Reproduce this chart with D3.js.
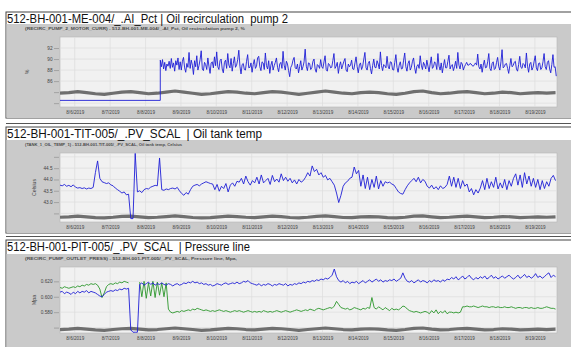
<!DOCTYPE html>
<html>
<head>
<meta charset="utf-8">
<script src="https://cdn.jsdelivr.net/npm/d3@7"></script>
<style>
  html, body { margin: 0; padding: 0; background: #fff; }
  svg { display: block; font-family: "Liberation Sans", Arial, sans-serif; }
</style>
</head>
<body>
<svg id="chart" width="571" height="347"></svg>
<script>
// Time axis shared by all three trends
const START = new Date(2019, 7, 5, 14, 0);
const END = new Date(2019, 7, 19, 15, 0);
const STEP_HOURS = 1.5;       // sample spacing of temp / pressure
const PUMP_STEP_HOURS = 0.75; // pump current is sampled denser
const GRAY_STEP_HOURS = 6;    // gray reference trace
const dayTicks = d3.timeDay.range(new Date(2019, 7, 6), new Date(2019, 7, 20));

// --- Panel 1: pump motor current, % ---
const pumpIdleValue = 82.5;
const pumpStartTime = new Date(2019, 7, 8, 10, 0);
const pumpValues = [
  89.8, 88.6, 89.9, 88.2, 89.4, 87.9, 89.1, 88.7, 89.6, 88.3, 90.1, 88.5, 89.3, 87.8, 89.7, 88.9, 90.2, 88.1, 89.5,
  88.0, 89.6, 90.3, 88.4, 87.6, 89.2, 88.5, 91.2, 88.3, 89.8, 88.9, 87.2, 89.7, 88.6, 90.6, 88.0, 88.8, 89.9, 91.5, 88.2, 87.9, 89.4, 89.0, 88.1, 90.2, 88.7, 87.4, 89.3, 89.5, 88.4, 90.4, 88.8,
  91.3, 88.6, 88.1, 89.7, 90.0, 88.2, 87.5, 89.4, 89.8, 88.3, 91.0, 88.9, 88.4, 90.1, 87.8, 89.2, 90.4, 88.5, 88.9, 89.9, 91.6, 88.7, 87.3, 89.0, 89.2, 88.1, 88.0, 89.6, 90.8, 88.4, 88.5, 89.3,
  87.6, 89.0, 89.9, 88.3, 88.7, 90.2, 90.5, 88.6, 87.9, 89.5, 89.3, 88.1, 91.1, 88.8, 88.2, 89.7, 87.4, 88.9, 89.6, 88.0, 88.8, 89.4, 90.2, 88.5, 87.7, 89.1, 89.4, 88.3, 91.4, 88.9, 88.0, 89.6,
  89.1, 87.9, 86.8, 88.5, 88.9, 89.8, 90.3, 88.4, 88.2, 89.1, 87.5, 88.6, 89.7, 88.0, 88.6, 89.5, 91.8, 88.7, 87.9, 89.3, 89.2, 88.1, 88.4, 89.6, 90.0, 88.2, 87.6, 89.0, 88.8, 88.3, 89.9, 88.6,
  88.3, 89.5, 90.6, 88.1, 87.8, 89.2, 89.0, 88.4, 88.5, 89.7, 91.0, 88.3, 88.7, 89.4, 87.4, 88.8, 89.5, 88.2, 88.9, 89.6, 90.1, 88.0, 87.7, 89.1, 88.6, 88.9, 89.8, 88.2, 88.1, 89.3, 90.4, 88.6,
  87.5, 88.9, 89.3, 88.1, 88.7, 90.0, 91.2, 88.4, 88.0, 89.2, 89.6, 88.3, 87.3, 88.8, 90.0, 88.5, 88.4, 89.7, 89.1, 88.2, 91.3, 88.8, 87.9, 89.0, 88.8, 88.4, 90.5, 88.7, 88.2, 89.5, 89.4, 88.1,
  88.0, 89.4, 90.8, 88.5, 87.6, 88.9, 89.5, 88.2, 88.3, 89.8, 91.1, 88.6, 87.8, 89.2, 89.7, 88.0, 88.5, 89.6, 90.2, 88.4, 87.4, 88.7, 89.0, 88.3, 90.6, 88.9, 88.1, 89.4, 88.9, 88.2, 89.8, 88.7,
  87.7, 89.1, 90.4, 88.3, 88.6, 89.5, 89.2, 88.1, 91.0, 88.7, 88.0, 89.3, 87.5, 88.8, 89.9, 88.4, 88.4, 89.6, 90.7, 88.2, 88.8, 89.0, 87.9, 88.6, 89.6, 88.3, 91.2, 88.9, 88.2, 89.4, 89.1, 88.0,
  88.6, 89.0, 89.4, 88.9, 88.9, 89.2, 89.1, 88.8, 88.7, 89.0, 89.3, 88.9, 90.9, 88.6, 88.2, 89.1, 87.6, 88.9, 89.8, 88.4, 88.5, 89.5, 91.0, 88.3, 87.9, 89.2, 89.5, 88.1, 88.3, 89.4, 90.3, 88.6,
  88.0, 89.5, 91.7, 88.4, 88.6, 89.1, 89.2, 88.3, 87.4, 88.8, 90.1, 88.6, 88.8, 89.4, 89.6, 88.2, 87.8, 89.0, 90.5, 88.5, 88.3, 89.2, 89.0, 88.4, 91.1, 88.7, 87.6, 89.1, 89.4, 88.0, 88.5, 89.6,
  90.6, 88.4, 87.9, 89.2, 89.3, 88.1, 88.4, 89.5, 91.0, 88.6, 88.1, 89.4, 89.7, 88.2, 87.5, 89.0, 90.8, 88.5, 88.6, 86.9
];
const pumpGray = [
  83.8, 83.9, 84.1, 83.9, 83.7, 83.6, 83.8, 84.0, 84.1, 83.9, 83.7, 83.8, 84.0, 84.2, 84.0, 83.8,
  83.6, 83.7, 83.9, 84.1, 84.0, 83.8, 83.7, 83.9, 84.1, 84.0, 83.8, 83.6, 83.8, 84.0, 84.2, 84.0,
  83.8, 83.7, 83.9, 84.0, 83.9, 83.7, 83.6, 83.8, 84.1, 84.2, 83.9, 83.7, 83.8, 84.0, 84.1, 83.9,
  83.7, 83.8, 84.0, 83.9, 83.7, 83.8, 83.9, 83.8, 83.9
];
const pumpTicks = [82, 84, 86, 88, 90, 92];
const pumpLabels = [86, 88, 90, 92];

// --- Panel 2: oil tank temperature, Celsius ---
const tempValues = [
  43.75, 43.72, 43.78, 43.70, 43.74, 43.68, 43.76, 43.66, 43.62, 43.64, 43.60, 43.63, 43.58, 43.62, 43.60, 43.65,
  44.30, 44.82, 44.05, 43.90, 43.86, 43.82, 43.85, 43.76, 43.72, 43.62, 43.55, 43.48, 43.40, 43.45, 43.32, 43.35,
  42.27, 42.27, 45.15, 43.45,
  43.50, 43.42, 43.55, 43.60, 43.58, 43.66, 43.70, 43.74, 43.72,
  44.95, 43.55,
  43.52, 43.58, 43.55, 43.60, 43.62, 43.58, 43.65,
  43.50, 43.38, 43.30, 43.42, 43.35, 43.55, 43.70,
  43.75, 43.78, 43.72, 43.80, 43.85, 43.90, 43.86, 43.82,
  43.80, 43.55, 43.78, 43.48, 43.70, 43.60, 43.82, 43.45, 43.75, 43.85, 43.70, 43.92,
  43.88, 44.05, 43.80, 44.15, 43.90, 43.75, 43.95, 43.85,
  44.10, 43.80, 44.20, 43.85, 43.95, 44.05, 43.78, 44.18, 43.90, 44.02, 43.88,
  44.25, 43.95, 44.10, 43.92, 44.05, 43.85, 43.98, 43.80, 44.00, 43.88, 43.95,
  44.10, 44.30, 44.15, 44.60, 44.35, 44.45, 44.20,
  44.30, 44.10, 44.18, 43.98, 44.05, 43.90, 43.75,
  43.40, 42.98, 43.30, 43.70,
  43.85, 43.92, 44.05, 44.10, 44.55, 44.25, 44.40,
  43.70, 44.20, 43.60, 44.10, 43.55, 44.00, 43.65, 44.15, 43.58, 43.95, 43.70, 43.90, 43.85, 43.88, 43.80, 43.75,
  43.60, 43.45, 43.38, 43.35, 43.55, 43.72,
  43.85, 43.95, 44.05, 43.90, 44.10, 43.85, 44.00, 43.92,
  43.70, 43.62, 43.75, 43.58, 43.68, 43.55, 43.72, 43.60, 43.65, 43.78,
  44.15, 43.70, 44.10, 43.65, 44.05, 43.60, 43.95, 43.70, 43.80,
  43.45, 43.60, 43.32, 43.55, 43.40, 43.62,
  43.95, 43.55, 44.05, 43.60, 43.90, 43.65, 44.10, 43.58, 43.85, 43.62, 44.00, 43.55, 43.95, 43.70, 44.05,
  44.25, 43.75, 44.20, 43.65, 44.30, 43.80, 44.15, 43.70, 44.05,
  43.65, 44.00, 43.55, 43.95, 43.60, 43.90, 43.70, 44.05, 44.18, 43.95
];
const tempGray = [
  42.33, 42.35, 42.38, 42.35, 42.31, 42.30, 42.33, 42.37, 42.38, 42.35, 42.31, 42.33, 42.36, 42.39, 42.36, 42.32,
  42.30, 42.31, 42.35, 42.38, 42.36, 42.33, 42.31, 42.35, 42.38, 42.36, 42.32, 42.30, 42.33, 42.37, 42.39, 42.36,
  42.32, 42.31, 42.35, 42.36, 42.35, 42.31, 42.30, 42.33, 42.38, 42.39, 42.35, 42.31, 42.33, 42.36, 42.38, 42.35,
  42.31, 42.33, 42.36, 42.35, 42.31, 42.33, 42.35, 42.33, 42.35
];
const tempTicks = [42.5, 43.0, 43.5, 44.0, 44.5, 45.0];
const tempLabels = [43.0, 43.5, 44.0, 44.5];

// --- Panel 3: pump outlet pressure, Mpa ---
const pressBlue = [
  0.606, 0.607, 0.604, 0.606,
  0.605, 0.603, 0.606, 0.604, 0.607, 0.605,
  0.607, 0.606, 0.608, 0.605, 0.607, 0.606, 0.605, 0.603, 0.601,
  0.600, 0.603, 0.606,
  0.607, 0.608, 0.607, 0.609, 0.608, 0.610, 0.609, 0.611, 0.610, 0.611,
  0.557, 0.554, 0.554, 0.554,
  0.616, 0.618, 0.615, 0.617, 0.619, 0.616, 0.618, 0.615, 0.617, 0.616, 0.618, 0.616,
  0.615, 0.617, 0.616, 0.614, 0.616, 0.617, 0.615, 0.616, 0.618, 0.617,
  0.619, 0.618, 0.620, 0.618, 0.619, 0.617, 0.618, 0.616, 0.617, 0.615,
  0.616, 0.614, 0.615, 0.617, 0.616, 0.615, 0.617, 0.618, 0.616, 0.617,
  0.618, 0.617, 0.619, 0.617, 0.618, 0.620, 0.619, 0.621, 0.618, 0.617,
  0.616, 0.615, 0.617, 0.614, 0.616, 0.615, 0.617, 0.616, 0.614, 0.616, 0.615, 0.617,
  0.616, 0.615, 0.617, 0.614, 0.616, 0.615, 0.617, 0.616, 0.618, 0.617, 0.619, 0.618, 0.620, 0.619, 0.621, 0.620, 0.622, 0.621, 0.623, 0.622,
  0.624, 0.623, 0.625, 0.628, 0.636, 0.626, 0.621,
  0.619, 0.621, 0.618, 0.620, 0.617, 0.619, 0.618, 0.620, 0.617, 0.619, 0.621, 0.618,
  0.620, 0.622, 0.619, 0.621, 0.623, 0.620, 0.622, 0.619, 0.621, 0.620, 0.622, 0.621, 0.623, 0.620, 0.622, 0.624,
  0.631, 0.624, 0.620,
  0.619, 0.621, 0.618, 0.620, 0.622, 0.619, 0.621, 0.620, 0.618, 0.621, 0.619, 0.622, 0.620, 0.621, 0.619, 0.622, 0.620, 0.623,
  0.622, 0.625, 0.623, 0.626, 0.622, 0.624, 0.627, 0.623, 0.625, 0.628, 0.624, 0.622, 0.625, 0.623, 0.626,
  0.624, 0.627, 0.623, 0.625, 0.628, 0.624, 0.626, 0.623, 0.625, 0.627, 0.624, 0.626, 0.628, 0.625, 0.623,
  0.625, 0.628, 0.624, 0.626, 0.629, 0.625, 0.627, 0.624, 0.626, 0.630, 0.625, 0.627, 0.624, 0.626, 0.629, 0.631, 0.625, 0.628, 0.626
];
const pressGreen = [
  0.612, 0.611, 0.613, 0.612, 0.611, 0.612, 0.613, 0.612, 0.614, 0.613,
  0.615, 0.614, 0.616, 0.615, 0.617, 0.616, 0.617, 0.615, 0.610,
  0.599, 0.605, 0.613,
  0.616, 0.617, 0.616, 0.618, 0.617, 0.619, 0.618, 0.620, 0.619, 0.618,
  null, null, null, null,
  0.619, 0.600, 0.620, 0.598, 0.618, 0.601, 0.620, 0.599, 0.619, 0.602, 0.618, 0.600,
  0.618, 0.584,
  0.580, 0.579, 0.580, 0.581, 0.580, 0.582, 0.581, 0.582, 0.583, 0.582,
  0.584, 0.583, 0.585, 0.584, 0.583, 0.582, 0.583, 0.582, 0.581, 0.582,
  0.581, 0.582, 0.583, 0.582, 0.581, 0.582, 0.581, 0.580, 0.581, 0.582,
  0.581, 0.582, 0.581, 0.580, 0.581, 0.582, 0.581, 0.580, 0.581, 0.580,
  0.581, 0.580, 0.582, 0.581, 0.580, 0.581, 0.580, 0.581, 0.582, 0.581,
  0.580, 0.581, 0.582, 0.581, 0.580, 0.581, 0.582, 0.583, 0.582, 0.581, 0.582, 0.583, 0.582, 0.584, 0.583, 0.582, 0.584, 0.585, 0.584, 0.583,
  0.584, 0.585, 0.586, 0.585, 0.588, 0.594, 0.590, 0.586, 0.585,
  0.584, 0.585, 0.583, 0.584, 0.586, 0.585, 0.584, 0.583, 0.585, 0.584, 0.586, 0.585, 0.599,
  0.586, 0.584, 0.587, 0.585, 0.583, 0.586, 0.584, 0.582, 0.585, 0.583, 0.584, 0.583, 0.585,
  0.588, 0.587, 0.584,
  0.582, 0.581, 0.580, 0.581, 0.580, 0.579, 0.580, 0.581, 0.580,
  0.578, 0.582, 0.579, 0.583, 0.578, 0.581, 0.579, 0.582, 0.578, 0.580,
  0.580, 0.579, 0.580, 0.579, 0.580, 0.587,
  0.587, 0.588, 0.587, 0.587, 0.588, 0.587, 0.586, 0.587, 0.588, 0.587,
  0.587, 0.586, 0.587, 0.587, 0.586, 0.587, 0.586, 0.586, 0.587, 0.586,
  0.586, 0.587, 0.586, 0.585, 0.586, 0.586, 0.585, 0.586, 0.586, 0.585,
  0.586, 0.585, 0.585, 0.586, 0.585, 0.585, 0.586, 0.587, 0.586, 0.585, 0.585, 0.584
];
const pressGray = [
  0.5575, 0.5580, 0.5590, 0.5580, 0.5570, 0.5565, 0.5575, 0.5585, 0.5590, 0.5580, 0.5570, 0.5575, 0.5585, 0.5595, 0.5585, 0.5575,
  0.5565, 0.5570, 0.5580, 0.5590, 0.5585, 0.5575, 0.5570, 0.5580, 0.5590, 0.5585, 0.5575, 0.5565, 0.5575, 0.5585, 0.5595, 0.5585,
  0.5575, 0.5570, 0.5580, 0.5585, 0.5580, 0.5570, 0.5565, 0.5575, 0.5590, 0.5595, 0.5580, 0.5570, 0.5575, 0.5585, 0.5590, 0.5580,
  0.5570, 0.5575, 0.5585, 0.5580, 0.5570, 0.5575, 0.5580, 0.5575, 0.5580
];
const pressTicks = [0.56, 0.58, 0.60, 0.62];
const pressLabels = [0.58, 0.60, 0.62];

const svg = d3.select("#chart");
const W = 571;
const x = d3.scaleTime().domain([START, END]).range([60, 557]);
const fmtDate = d3.timeFormat("%-m/%-d/%Y");

// index -> time for evenly sampled series
const atStep = (start, hours) => (v, i) => ({ t: d3.timeMinute.offset(start, Math.round(i * hours * 60)), v });

function drawPanel(p) {
  const g = svg.append("g");

  // frame: optional double rule, white title band, gray chart box
  if (p.doubleRule) {
    g.append("line").attr("x1", 6).attr("x2", W).attr("y1", p.top - 3.5).attr("y2", p.top - 3.5)
      .attr("stroke", "#555").attr("stroke-width", 1);
  }
  g.append("rect").attr("x", 6).attr("y", p.top).attr("width", W).attr("height", p.bottom - p.top)
    .attr("fill", "#fff").attr("stroke", "#444").attr("stroke-width", 1);
  g.append("rect").attr("x", 6.5).attr("y", p.boxTop).attr("width", W).attr("height", p.bottom - p.boxTop)
    .attr("fill", "#cacaca");

  g.append("text")
    .attr("x", 7).attr("y", p.titleY)
    .attr("font-size", 12.5).attr("fill", "#111")
    .attr("textLength", p.titleW).attr("lengthAdjust", "spacingAndGlyphs")
    .style("white-space", "pre")
    .text(p.title);

  g.append("text")
    .attr("x", 25).attr("y", p.boxTop + 5.5)
    .attr("font-size", 4.4).attr("font-weight", "bold").attr("fill", "#4a4a4a")
    .attr("textLength", p.subW).attr("lengthAdjust", "spacingAndGlyphs")
    .text(p.subtitle);

  const y = d3.scaleLinear().domain(p.yDomain).range([p.plotBottom, p.plotTop]);
  const [x0, x1] = x.range();

  g.append("rect").attr("x", x0).attr("y", p.plotTop)
    .attr("width", x1 - x0).attr("height", p.plotBottom - p.plotTop)
    .attr("fill", "#f1f1f1").attr("stroke", "#b5b5b5").attr("stroke-width", 0.6);

  // grid
  g.append("g").selectAll("line").data(p.ticks).join("line")
    .attr("x1", x0).attr("x2", x1)
    .attr("y1", (d) => y(d)).attr("y2", (d) => y(d))
    .attr("stroke", "#dcdcdc").attr("stroke-width", 0.7);
  g.append("g").selectAll("line").data(dayTicks).join("line")
    .attr("x1", (d) => x(d)).attr("x2", (d) => x(d))
    .attr("y1", p.plotTop).attr("y2", p.plotBottom)
    .attr("stroke", "#dcdcdc").attr("stroke-width", 0.7);

  // y axis (ticks left of plot, only some labelled)
  const yAxis = d3.axisLeft(y).tickValues(p.ticks).tickSize(5).tickPadding(1.5)
    .tickFormat((d) => p.labels.some((l) => Math.abs(l - d) < 1e-9) ? d3.format(p.fmt)(d) : "");
  const ya = g.append("g").attr("transform", `translate(${x0 - 1},0)`).call(yAxis);
  ya.select(".domain").remove();
  ya.selectAll("line").attr("stroke", "#888").attr("stroke-width", 0.6);
  ya.selectAll("text").attr("font-size", 4.7).attr("fill", "#444").attr("font-family", "inherit");

  g.append("text")
    .attr("transform", `translate(${p.yTitleX},${(p.plotTop + p.plotBottom) / 2}) rotate(-90)`)
    .attr("text-anchor", "middle").attr("font-size", 5.2).attr("fill", "#444")
    .text(p.yTitle);

  // x axis labels
  const xAxis = d3.axisBottom(x).tickValues(dayTicks).tickSize(0).tickPadding(4).tickFormat(fmtDate);
  const xa = g.append("g").attr("transform", `translate(0,${p.plotBottom})`).call(xAxis);
  xa.select(".domain").remove();
  xa.selectAll("text").attr("font-size", 4.6).attr("fill", "#444").attr("font-family", "inherit");

  // series, clipped to plot
  const clipId = "clip" + p.id;
  g.append("clipPath").attr("id", clipId).append("rect")
    .attr("x", x0).attr("y", p.plotTop).attr("width", x1 - x0).attr("height", p.plotBottom - p.plotTop);
  const plot = g.append("g").attr("clip-path", `url(#${clipId})`);

  const line = d3.line().defined((d) => d.v != null).x((d) => x(d.t)).y((d) => y(d.v));
  p.series.forEach((s) => {
    plot.append("path")
      .datum(s.points)
      .attr("fill", "none")
      .attr("stroke", s.color)
      .attr("stroke-width", s.width)
      .attr("stroke-linejoin", "round")
      .attr("d", line);
  });
}

const grayPts = (vals) => vals.map(atStep(START, GRAY_STEP_HOURS));

drawPanel({
  id: 1, top: 12, boxTop: 24, bottom: 118, titleY: 22.5, titleW: 281,
  title: "512-BH-001-ME-004/_.AI_Pct | Oil recirculation  pump 2",
  subtitle: "(RECIRC_PUMP_2_MOTOR_CURR) - 512-BH-001-ME-004/_.AI_Pct, Oil recirculation pump 2, %",
  subW: 220,
  plotTop: 37, plotBottom: 107, yDomain: [81.3, 94],
  ticks: pumpTicks, labels: pumpLabels, fmt: "d", yTitle: "%", yTitleX: 29,
  series: [
    { color: "#6f6f6f", width: 3.2, points: grayPts(pumpGray) },
    {
      color: "#1e1ed6", width: 0.9,
      points: [{ t: START, v: pumpIdleValue }, { t: pumpStartTime, v: pumpIdleValue }]
        .concat(pumpValues.map(atStep(pumpStartTime, PUMP_STEP_HOURS)))
    }
  ]
});

drawPanel({
  id: 2, top: 127, boxTop: 140, bottom: 233, titleY: 137.5, titleW: 255, doubleRule: true,
  title: "512-BH-001-TIT-005/_.PV_SCAL  | Oil tank temp",
  subtitle: "(TANK_1_OIL_TEMP_1) - 512-BH-001-TIT-005/_.PV_SCAL, Oil tank temp, Celsius",
  subW: 157,
  plotTop: 153, plotBottom: 222, yDomain: [42.12, 45.17],
  ticks: tempTicks, labels: tempLabels, fmt: ".1f", yTitle: "Celsius", yTitleX: 36,
  series: [
    { color: "#6f6f6f", width: 3.2, points: grayPts(tempGray) },
    { color: "#1e1ed6", width: 0.9, points: tempValues.map(atStep(START, STEP_HOURS)) }
  ]
});

drawPanel({
  id: 3, top: 240, boxTop: 254, bottom: 360, titleY: 251, titleW: 243, doubleRule: true,
  title: "512-BH-001-PIT-005/_.PV_SCAL  | Pressure line",
  subtitle: "(RECIRC_PUMP_OUTLET_PRESS) - 512-BH-001-PIT-005/_.PV_SCAL, Pressure line, Mpa,",
  subW: 212,
  plotTop: 267, plotBottom: 333, yDomain: [0.553, 0.6386],
  ticks: pressTicks, labels: pressLabels, fmt: ".3f", yTitle: "Mpa", yTitleX: 36,
  series: [
    { color: "#6f6f6f", width: 3.2, points: grayPts(pressGray) },
    { color: "#2a962a", width: 0.9, points: pressGreen.map(atStep(START, STEP_HOURS)) },
    { color: "#1e1ed6", width: 0.9, points: pressBlue.map(atStep(START, STEP_HOURS)) }
  ]
});
</script>
</body>
</html>
